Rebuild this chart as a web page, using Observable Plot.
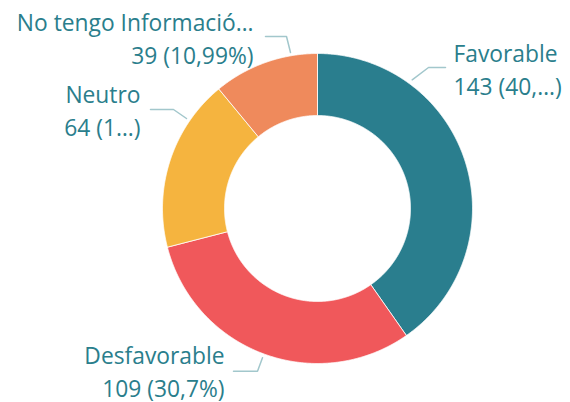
<!DOCTYPE html>
<html><head><meta charset="utf-8">
<script src="https://cdn.jsdelivr.net/npm/d3@7"></script>
<script src="https://cdn.jsdelivr.net/npm/@observablehq/plot@0.6"></script>
<style>body{margin:0;background:#fff;} #chart svg{display:block;}</style>
</head><body><div id="chart"></div>
<script>
// ---- data ----
const categories = ["Favorable", "Desfavorable", "Neutro", "No tengo Información"];
const counts = [143, 109, 64, 39];
const nameLabels = ["Favorable", "Desfavorable", "Neutro", "No tengo Informació…"];
const valueLabels = ["143 (40,…)", "109 (30,7%)", "64 (1…)", "39 (10,99%)"];
const colors = ["#2a7e8e", "#f0585b", "#f5b43f", "#ef8a5c"];

// ---- layout (pixels relative to donut centre) ----
const W = 570, H = 402, CX = 317, CY = 208, R_OUT = 155, R_IN = 93;
const FONT = 22.8, LINE = 33;
const labelLayout = [
  {x: 136, y: -114, anchor: "start"},
  {x: -93, y: 188, anchor: "end"},
  {x: -177, y: -73, anchor: "end"},
  {x: -64, y: -145, anchor: "end"}
];
const leaderLayout = [
  [[128, -141], [111, -141], [94.7, -128.7]],
  [[-84, 162.7], [-60, 162.7], [-55, 149.3]],
  [[-167, -99], [-144, -99], [-131, -90]],
  [[-52, -172], [-31, -172], [-27, -156]]
];

const data = categories.map((c, i) => ({category: c, count: counts[i]}));
const arcs = d3.pie().sort(null).value(d => d.count)(data);
const slicePts = [];
arcs.forEach(p => {
  const n = Math.max(2, Math.ceil((p.endAngle - p.startAngle) / 0.005));
  const ring = [];
  for (let i = 0; i <= n; i++) {
    const a = p.startAngle + (p.endAngle - p.startAngle) * i / n;
    ring.push({x: R_OUT * Math.sin(a), y: -R_OUT * Math.cos(a)});
  }
  for (let i = n; i >= 0; i--) {
    const a = p.startAngle + (p.endAngle - p.startAngle) * i / n;
    ring.push({x: R_IN * Math.sin(a), y: -R_IN * Math.cos(a)});
  }
  ring.push(ring[0]);
  ring.forEach(pt => slicePts.push({...pt, category: p.data.category}));
});

const leaderPts = [];
leaderLayout.forEach((pts, i) => pts.forEach(([x, y]) => leaderPts.push({x, y, category: categories[i]})));

const labels = categories.map((c, i) => ({
  x: labelLayout[i].x, y: labelLayout[i].y, anchor: labelLayout[i].anchor,
  text: nameLabels[i] + "\n" + valueLabels[i]
}));

const textColor = "#2a7e8c";
const chart = Plot.plot({
  width: W, height: H, margin: 0,
  style: {fontFamily: "'Open Sans', sans-serif", background: "#fff"},
  x: {domain: [-CX, W - CX], range: [0, W], axis: null},
  y: {domain: [-CY, H - CY], range: [0, H], axis: null},
  color: {domain: categories, range: colors},
  marks: [
    Plot.line(slicePts, {x: "x", y: "y", z: "category", fill: "category", stroke: "#fff", strokeWidth: 0.8, curve: "linear"}),
    Plot.line(leaderPts, {x: "x", y: "y", z: "category", stroke: "#a2c7cc", strokeWidth: 1.5}),
    Plot.text(labels.filter(d => d.anchor === "start"), {x: "x", y: "y", text: "text", textAnchor: "start", lineAnchor: "bottom", lineHeight: LINE / FONT, fontSize: FONT, fill: textColor}),
    Plot.text(labels.filter(d => d.anchor === "end"), {x: "x", y: "y", text: "text", textAnchor: "end", lineAnchor: "bottom", lineHeight: LINE / FONT, fontSize: FONT, fill: textColor})
  ]
});
document.getElementById("chart").appendChild(chart);
</script>
</body></html>
